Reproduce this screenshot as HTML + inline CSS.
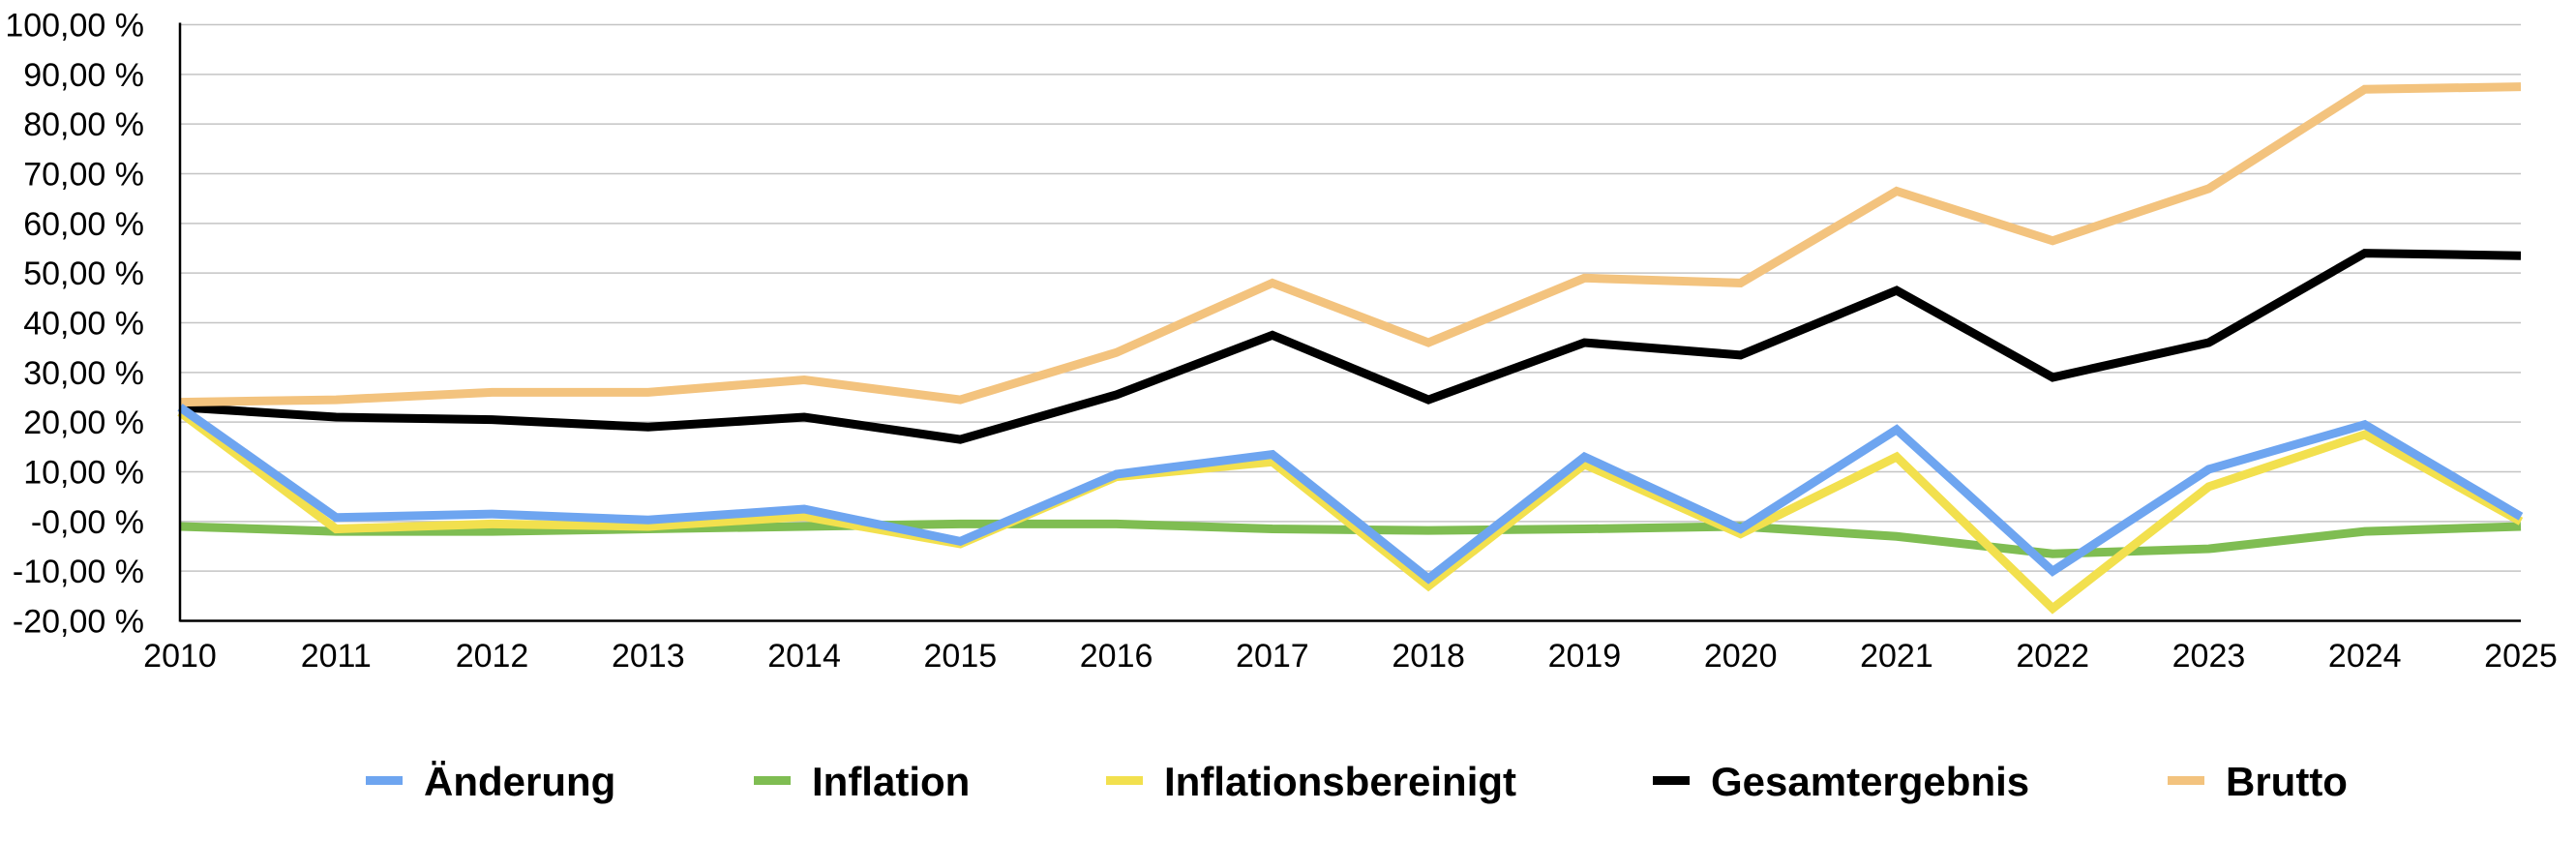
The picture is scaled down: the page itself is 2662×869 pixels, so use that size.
<!DOCTYPE html>
<html><head><meta charset="utf-8"><style>
body{margin:0;background:#fff}
svg text{font-family:"Liberation Sans",sans-serif;fill:#000}
</style></head><body>
<svg id="chart" width="2662" height="864" viewBox="0 0 2662 864" xmlns="http://www.w3.org/2000/svg">
<g id="grid"></g>
<g id="yticks"></g>
<g id="xticks"></g>
<g id="series"></g>
<g id="axes"></g>
<g id="legend"></g>
</svg>
<script>
const years = [2010,2011,2012,2013,2014,2015,2016,2017,2018,2019,2020,2021,2022,2023,2024,2025];
const yTicks = [100,90,80,70,60,50,40,30,20,10,0,-10,-20];
const yTickLabels = ["100,00 %","90,00 %","80,00 %","70,00 %","60,00 %","50,00 %","40,00 %","30,00 %","20,00 %","10,00 %","-0,00 %","-10,00 %","-20,00 %"];
const seriesNames = ["Änderung","Inflation","Inflationsbereinigt","Gesamtergebnis","Brutto"];
const aenderung = [23,0.8,1.5,0.3,2.5,-4,9.5,13.5,-11.5,13,-1.5,18.5,-10,10.5,19.5,1];
const inflation = [-1,-2,-2,-1.5,-1,-0.5,-0.5,-1.5,-1.8,-1.5,-1,-3,-6.5,-5.5,-2,-1];
const bereinigt = [22,-1.5,-0.5,-1,1,-4.5,9,12,-13,11.5,-2.5,13,-17.5,7,17.5,0];
const gesamt = [23,21,20.5,19,21,16.5,25.5,37.5,24.5,36,33.5,46.5,29,36,54,53.5];
const brutto = [24,24.5,26,26,28.5,24.5,34,48,36,49,48,66.5,56.5,67,87,87.5];

const NS="http://www.w3.org/2000/svg";
const X0=186, X1=2605, YTOP=25.5, YBOT=641.5, VMAX=100, VMIN=-20;
const xS=i=>X0+(X1-X0)*i/(years.length-1);
const yS=v=>YTOP+(VMAX-v)/(VMAX-VMIN)*(YBOT-YTOP);
function mk(tag,attrs,parent){const e=document.createElementNS(NS,tag);for(const k in attrs)e.setAttribute(k,attrs[k]);parent.appendChild(e);return e;}

const grid=document.getElementById('grid'), yt=document.getElementById('yticks'), xt=document.getElementById('xticks');
yTicks.forEach((v,i)=>{
  const l=mk('line',{x1:X0,x2:X1,y1:yS(v),y2:yS(v),stroke:'#c4c4c4','stroke-width':1.5},grid);
  
  
  const t=mk('text',{x:149,y:yS(v)+12,'text-anchor':'end','font-size':34},yt);
  t.textContent=yTickLabels[i];
  
  
});
years.forEach((yr,i)=>{
  const t=mk('text',{x:xS(i),y:689,'text-anchor':'middle','font-size':34},xt);
  t.textContent=yr;
  
  
});
const sg=document.getElementById('series');
const defs=[[gesamt,'#000000','gesamtergebnis-line'],[brutto,'#f3c37e','brutto-line'],[inflation,'#7fbd52','inflation-line'],[bereinigt,'#f2e04e','inflationsbereinigt-line'],[aenderung,'#6ea5f0','aenderung-line']];
defs.forEach(([d,c,n])=>{
  const p=mk('polyline',{points:d.map((v,i)=>xS(i)+','+yS(v)).join(' '),fill:'none',stroke:c,'stroke-width':9,'stroke-linejoin':'miter'},sg);
  
  
});
const ax=document.getElementById('axes');
const a1=mk('line',{x1:X0,x2:X0,y1:YTOP-2,y2:YBOT+1,stroke:'#000','stroke-width':2.5},ax);


const a2=mk('line',{x1:X0,x2:X1,y1:YBOT,y2:YBOT,stroke:'#000','stroke-width':2.5},ax);



const lg=document.getElementById('legend');
const legColors=['#6ea5f0','#7fbd52','#f2e04e','#000000','#f3c37e'];
const legX=[378,779,1143,1708,2240];
seriesNames.forEach((n,i)=>{
  const g=mk('g',{},lg);
  
  
  const r=mk('rect',{x:legX[i],y:802,width:38,height:9,fill:legColors[i]},g);
  
  
  const t=mk('text',{x:legX[i]+60,y:822,'font-size':42,'font-weight':'bold'},g);
  t.textContent=n;
  
  
});
</script>
</body></html>
